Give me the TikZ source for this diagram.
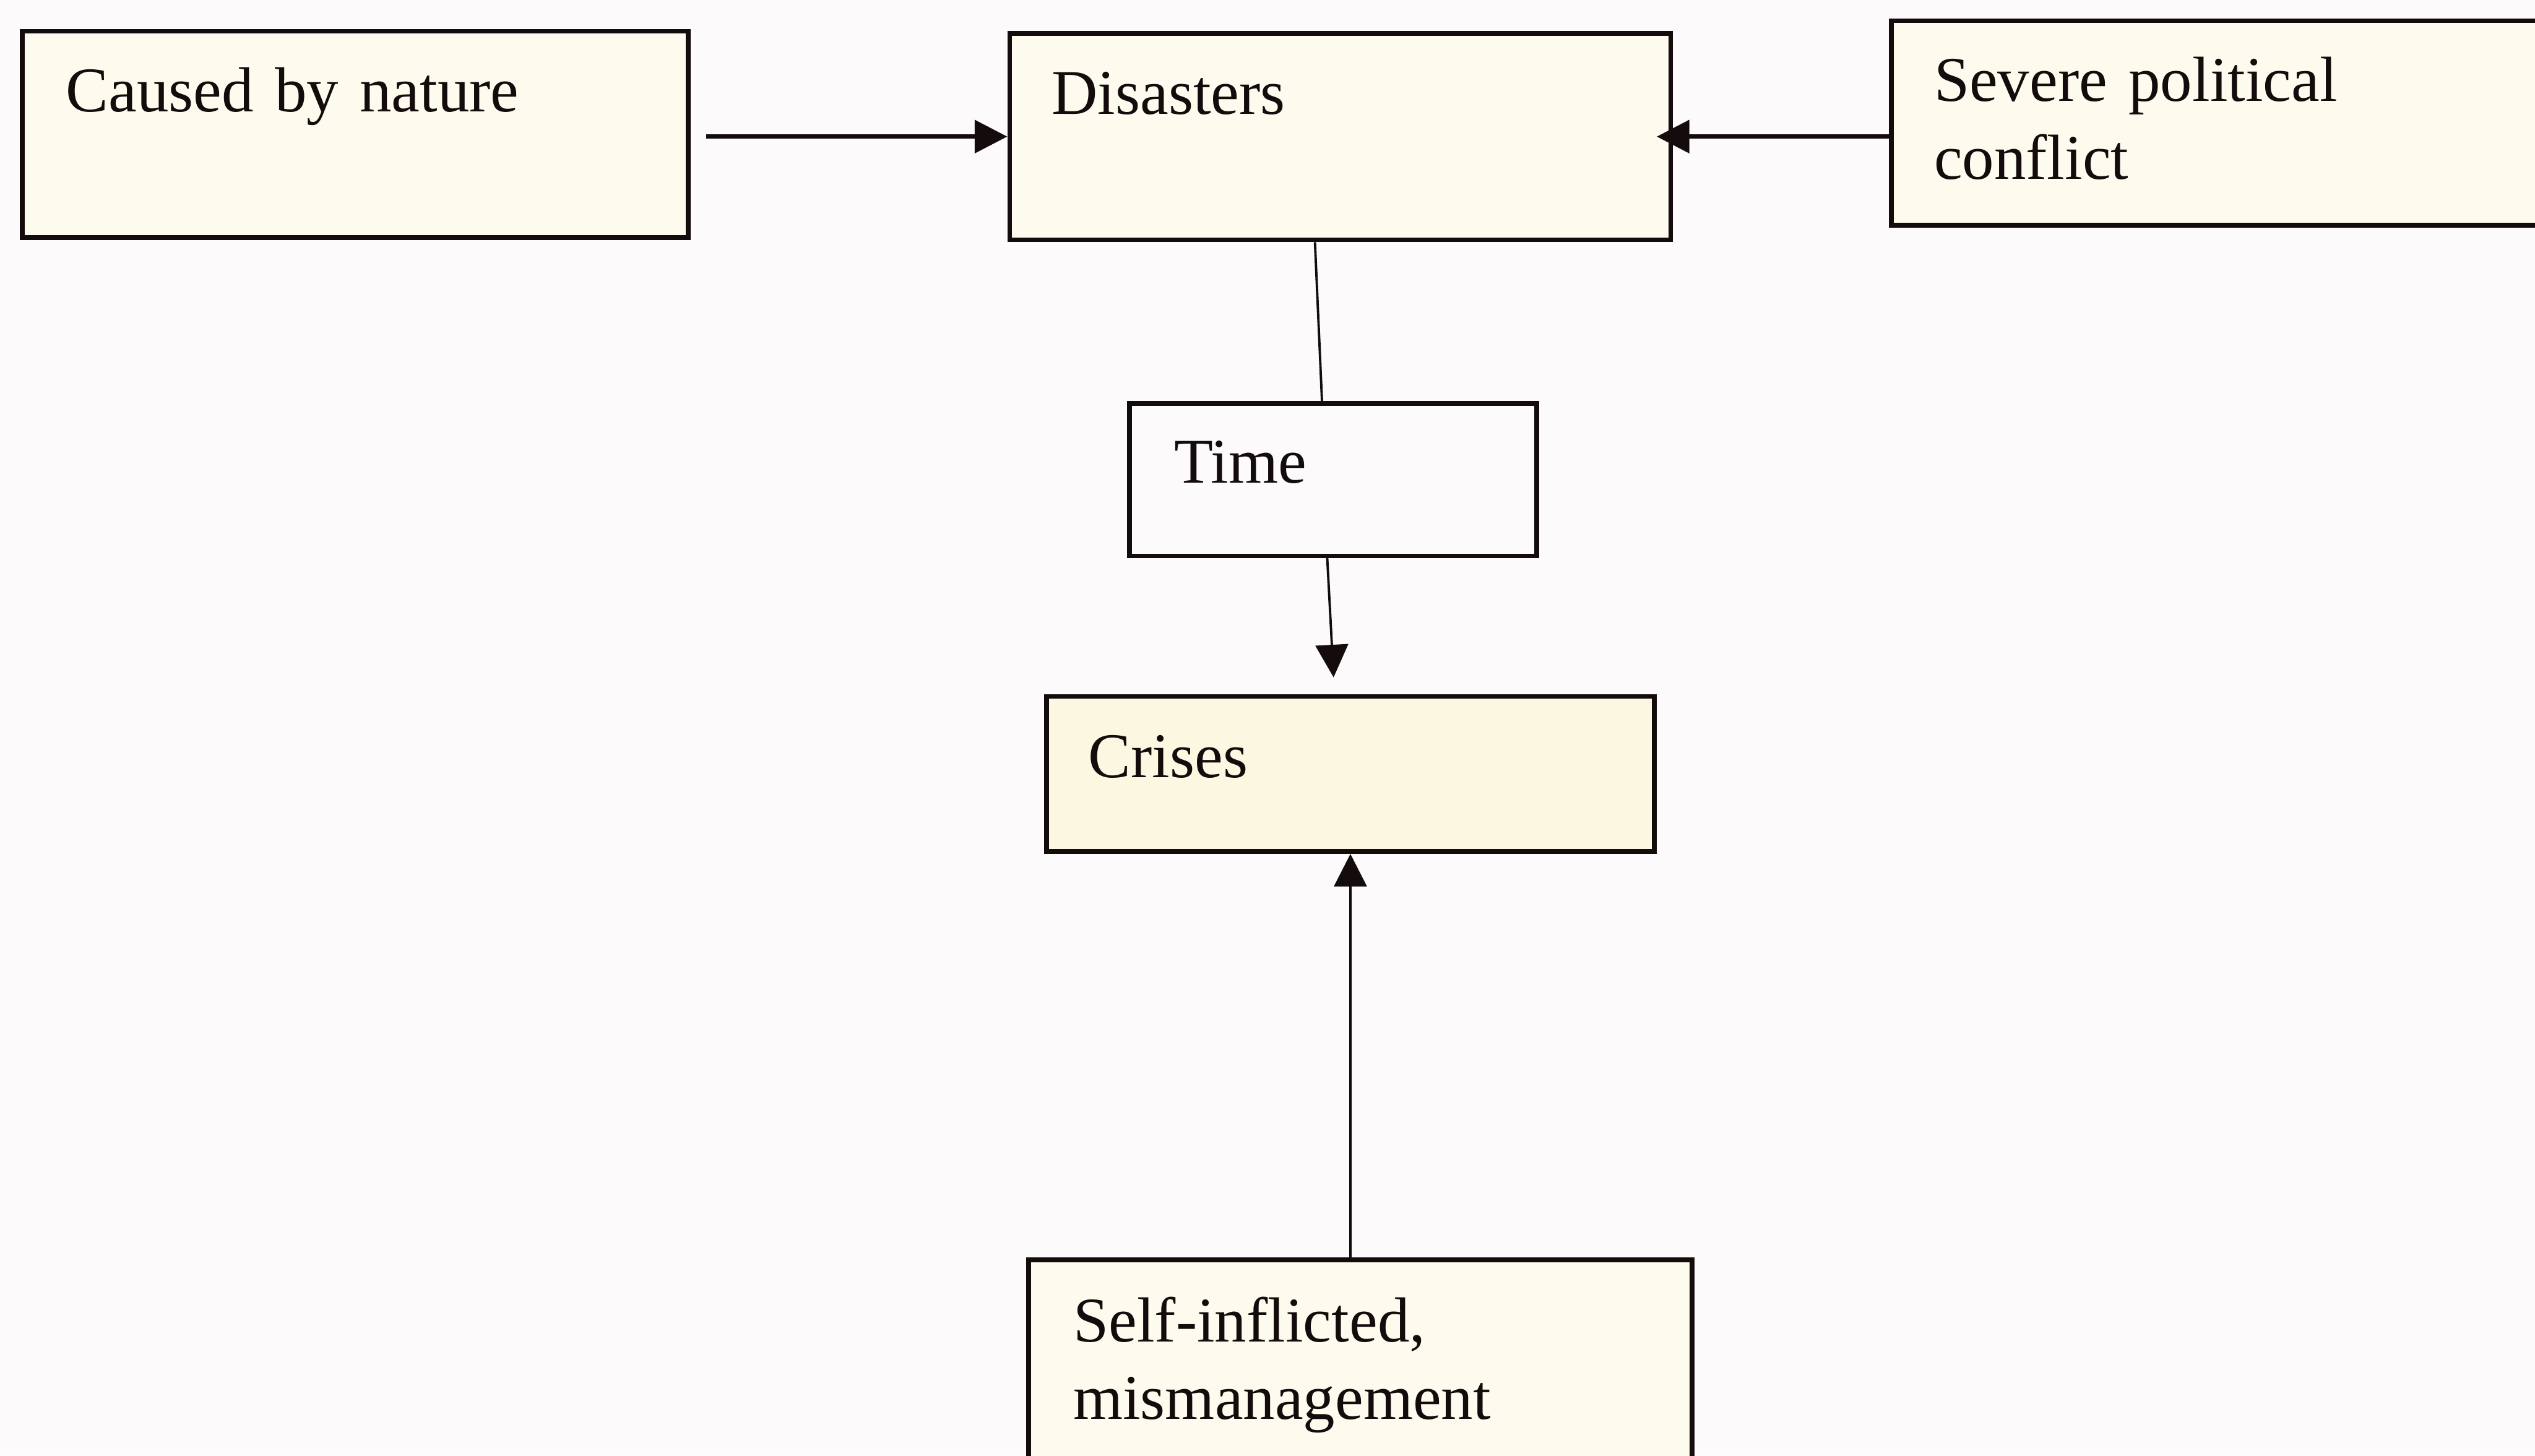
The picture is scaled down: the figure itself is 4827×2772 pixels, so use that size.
\documentclass[tikz,border=0pt]{standalone}
\usepackage{fontspec}
\setmainfont{Liberation Serif}
\usetikzlibrary{arrows.meta}
\definecolor{paper}{RGB}{252,250,251}
\definecolor{cream}{RGB}{253,251,237}
\definecolor{creamdeep}{RGB}{251,247,225}
\definecolor{ink}{RGB}{20,12,12}
\tikzset{
  box/.style={draw=ink, line width=0.09cm, fill=cream, rectangle, inner sep=0pt,
              anchor=north west},
  lbl/.style={inner sep=0pt, text=ink, font=\fontsize{34.5}{42}\selectfont,
              text width=10cm, align=left, anchor=base west},
  conn/.style={draw=ink, line width=0.045cm},
  hconn/.style={draw=ink, line width=0.08cm},
  tip/.style={-{Triangle[length=0.62cm, width=0.62cm]}}
}
\begin{document}
\begin{tikzpicture}[x=0.01cm, y=-0.01cm]
  \useasboundingbox (0,0) rectangle (4827,2772);
  \fill[paper] (0,0) rectangle (4827,2772);
  \clip (0,0) rectangle (4827,2772);

  % boxes
  \node[box, minimum width=12.67cm, minimum height=3.93cm] (nature) at (38,55) {};
  \node[box, minimum width=12.58cm, minimum height=3.93cm] (disasters) at (1918,59) {};
  \node[box, minimum width=13.5cm, minimum height=3.89cm] (political) at (3597,35) {};
  \node[box, fill=paper, minimum width=7.75cm, minimum height=2.90cm] (time) at (2146,764) {};
  \node[box, fill=creamdeep, minimum width=11.57cm, minimum height=2.95cm] (crises) at (1988,1322) {};
  \node[box, minimum width=12.63cm, minimum height=6cm] (self) at (1954,2395) {};

  % box texts
  \node[lbl] (natureText) at (125,213) {Caused by nature};
  \node[lbl] (disastersText) at (2002,218) {Disasters};
  \node[lbl] (politicalText) at (3682,193) {Severe political\\conflict};
  \node[lbl] (timeText) at (2235,920) {Time};
  \node[lbl] (crisesText) at (2072,1481) {Crises};
  \node[lbl] (selfText) at (2043,2555) {Self-inflicted,\\mismanagement};

  % connectors
  \draw[hconn, tip] ([xshift=0.3cm]nature.east |- disasters.west) -- (disasters.west);
  \draw[hconn, tip] (political.west |- disasters.east) -- ([xshift=-0.31cm]disasters.east);
  \draw[conn] ([xshift=-0.48cm]disasters.south) -- ([xshift=-0.21cm]time.north);
  \draw[conn, tip] ([xshift=-0.11cm]time.south) -- ([xshift=-0.32cm, yshift=0.32cm]crises.north);
  \draw[conn, tip] (crises.south |- self.north) -- (crises.south);
\end{tikzpicture}
\end{document}
